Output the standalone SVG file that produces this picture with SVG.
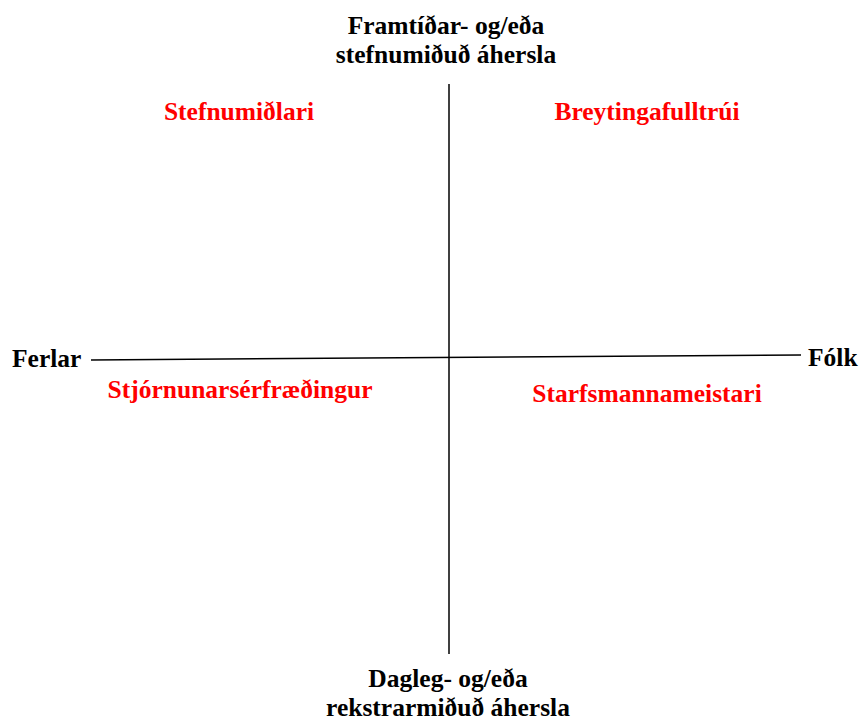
<svg xmlns="http://www.w3.org/2000/svg" width="861" height="722" viewBox="0 0 861 722">
<style>
text{font-family:"Liberation Serif","Times New Roman",serif;font-weight:bold;font-size:25.5px}
.ax{fill:#000}
.q{fill:#ff0000}
.ln{stroke:#000;stroke-width:1.5;fill:none}
</style>
<rect width="861" height="722" fill="#fff"/>
<g id="connectors">
<line class="ln" x1="449" y1="84" x2="449" y2="654"/>
<line class="ln" x1="91" y1="360" x2="801" y2="355"/>
</g>
<g id="top-label"><text class="ax" x="446" y="34" text-anchor="middle">Framtíðar- og/eða</text><text class="ax" x="446" y="63" text-anchor="middle">stefnumiðuð áhersla</text></g>
<g id="bottom-label"><text class="ax" x="448" y="687" text-anchor="middle">Dagleg- og/eða</text><text class="ax" x="448" y="716" text-anchor="middle">rekstrarmiðuð áhersla</text></g>
<g id="left-label"><text class="ax" x="12" y="367">Ferlar</text></g>
<g id="right-label"><text class="ax" x="808" y="366">Fólk</text></g>
<g id="q1"><text class="q" x="239" y="120" text-anchor="middle">Stefnumiðlari</text></g>
<g id="q2"><text class="q" x="647" y="120" text-anchor="middle">Breytingafulltrúi</text></g>
<g id="q3"><text class="q" x="240" y="398" text-anchor="middle">Stjórnunarsérfræðingur</text></g>
<g id="q4"><text class="q" x="647" y="402" text-anchor="middle">Starfsmannameistari</text></g>
</svg>
